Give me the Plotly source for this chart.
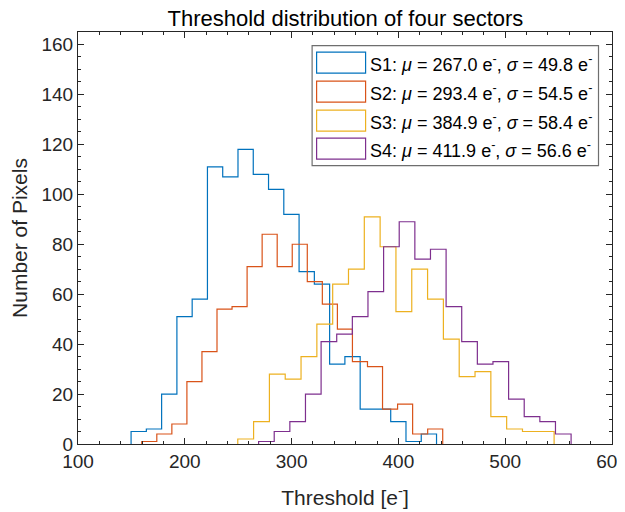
import numpy as np
import plotly.graph_objects as go

# ---------------- data ----------------
series_names = ["S1", "S2", "S3", "S4"]
means = [267.0, 293.4, 384.9, 411.9]
sigmas = [49.8, 54.5, 58.4, 56.6]

bin_start = [149.7, 159.7, 249.6, 269.1]
bin_width = [14.30, 14.09, 14.81, 14.63]

counts_s1 = [5, 6, 20, 51, 58, 111, 107, 118, 108, 102, 92, 69, 64, 32, 35, 14, 14, 9, 1, 4]
counts_s2 = [1, 4, 8, 25, 37, 54, 55, 71, 84, 71, 80, 65, 56, 46, 33, 31, 14, 16, 4, 6]
counts_s3 = [2, 9, 28, 26, 35, 48, 64, 70, 91, 79, 53, 70, 58, 42, 27, 29, 11, 6, 5, 5]
counts_s4 = [1, 5, 9, 20, 41, 44, 51, 61, 79, 89, 74, 78, 55, 41, 32, 33, 18, 11, 9, 4]
all_counts = [counts_s1, counts_s2, counts_s3, counts_s4]

x_tick_vals = [100, 200, 300, 400, 500, 600]
y_tick_vals = [0, 20, 40, 60, 80, 100, 120, 140, 160]

# ---------------- style ----------------
colors = ["#0072BD", "#D95319", "#EDB120", "#7E2F8E"]
FONT = "Liberation Sans, Arial, Helvetica, sans-serif"
OFF = 8  # page body margin in the browser
W, H = 625 - OFF, 512 - OFF
# plot area in page pixels: x 78.3..612.5, y 32.3..444.5
ML = 78.3 - OFF
MT = 32.3 - OFF
MR = W - (612.5 - OFF)
MB = H - (444.5 - OFF)

fig = go.Figure()
for name, start, width, counts, col in zip(series_names, bin_start, bin_width, all_counts, colors):
    edges = start + width * np.arange(len(counts) + 1)
    xs = [edges[0]] + list(edges)
    ys = [0] + list(counts) + [0]
    fig.add_trace(go.Scatter(x=xs, y=ys, mode="lines", line=dict(color=col, width=1.2, shape="hv"),
                             name=name, showlegend=False, hoverinfo="skip"))

def px_x(p):  # page pixel -> paper
    return (p - OFF - ML) / (W - ML - MR)

def px_y(p):
    return 1 - (p - OFF - MT) / (H - MT - MB)

shapes = []
annotations = []
# legend box
shapes.append(dict(type="rect", xref="paper", yref="paper", x0=px_x(312.5), x1=px_x(599),
                   y0=px_y(166), y1=px_y(46), line=dict(color="#6e6e6e", width=1.2),
                   fillcolor="white", layer="above"))
row_centers = [63, 92, 121, 149]
for name, mu, sg, col, yc in zip(series_names, means, sigmas, colors, row_centers):
    shapes.append(dict(type="rect", xref="paper", yref="paper", x0=px_x(317), x1=px_x(366),
                       y0=px_y(yc + 10.5), y1=px_y(yc - 10.5), line=dict(color=col, width=1.2),
                       fillcolor="rgba(0,0,0,0)", layer="above"))
    txt = f"{name}: <i>\u03bc</i> = {mu:.1f} e<sup>-</sup>, <i>\u03c3</i> = {sg:.1f} e<sup>-</sup>"
    annotations.append(dict(xref="paper", yref="paper", x=px_x(369), y=px_y(yc + 1), text=txt,
                            showarrow=False, xanchor="left", yanchor="middle", borderpad=0,
                            font=dict(family=FONT, size=18, color="#000000")))

fig.update_layout(
    width=W, height=H,
    margin=dict(l=ML, r=MR, t=MT, b=MB, autoexpand=False),
    paper_bgcolor="white", plot_bgcolor="white",
    title=dict(text="Threshold distribution of four sectors",
               x=(ML + (W - ML - MR) / 2) / W, xanchor="center",
               y=1 - (18.5 - OFF) / H, yanchor="middle", yref="container",
               font=dict(family=FONT, size=22, color="#000000")),
    shapes=shapes, annotations=annotations,
    xaxis=dict(range=[100, 600], tickvals=x_tick_vals, ticks="inside", ticklen=6, tickwidth=1,
               tickcolor="#262626", showline=True, linecolor="#262626", linewidth=1, mirror="ticks",
               showgrid=False, zeroline=False, automargin=False, ticklabeloverflow="allow",
               minor=dict(dtick=20, ticks="inside", ticklen=3, tickcolor="#262626", showgrid=False),
               tickfont=dict(family=FONT, size=19, color="#262626"),
               title=dict(text="Threshold [e<sup>-</sup>]", standoff=19,
                          font=dict(family=FONT, size=21, color="#262626"))),
    yaxis=dict(range=[0, 165], tickvals=y_tick_vals, ticks="inside", ticklen=6, tickwidth=1,
               tickcolor="#262626", showline=True, linecolor="#262626", linewidth=1, mirror="ticks",
               showgrid=False, zeroline=False, automargin=False, ticklabeloverflow="allow",
               minor=dict(dtick=5, ticks="inside", ticklen=3, tickcolor="#262626", showgrid=False),
               tickfont=dict(family=FONT, size=19, color="#262626"),
               title=dict(text="Number of Pixels", standoff=9,
                          font=dict(family=FONT, size=21, color="#262626"))),
)

fig.write_html("out.html")
